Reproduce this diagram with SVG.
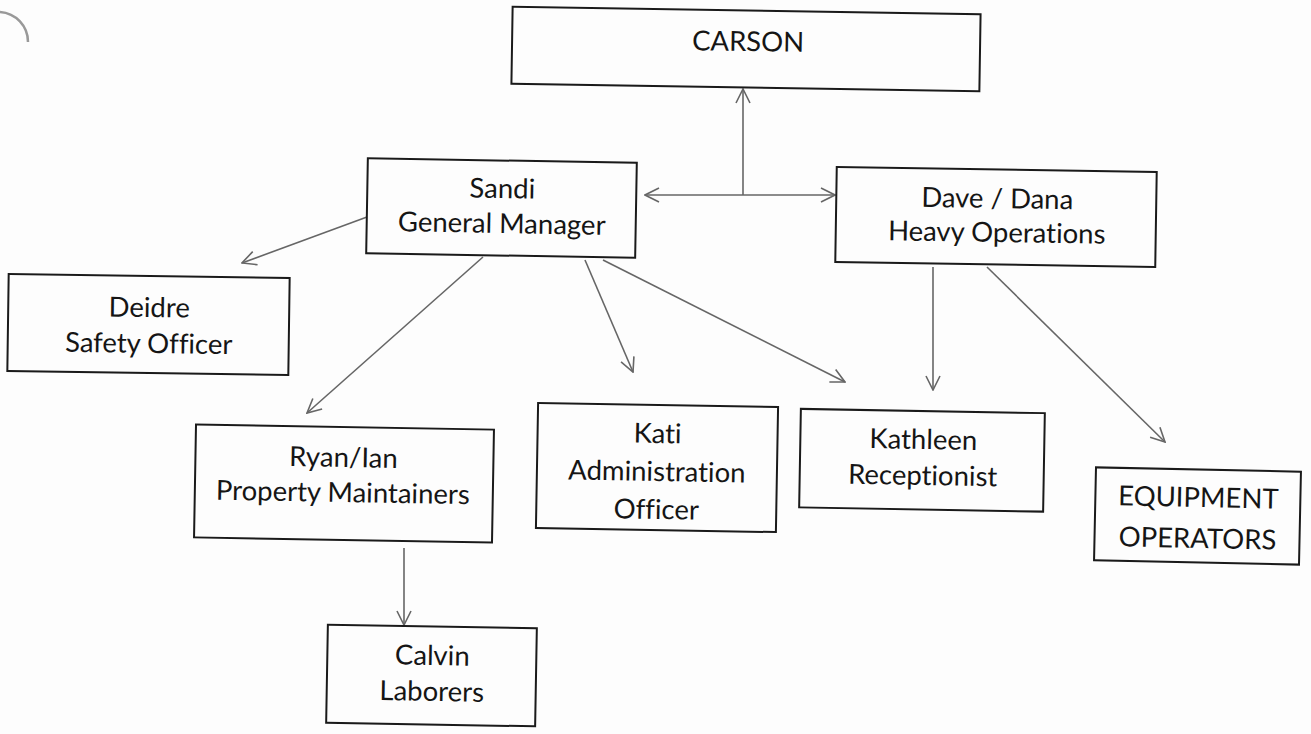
<svg xmlns="http://www.w3.org/2000/svg" width="1311" height="734" viewBox="0 0 1311 734">
  <style>
    .box { fill: none; stroke: #1a1a1a; stroke-width: 2; }
    .lbl { font-family: Lato, "Liberation Sans", sans-serif; font-size: 27.5px; fill: #151515; text-anchor: middle; font-variant-ligatures: none; }
    .con { fill: none; stroke: #666; stroke-width: 1.6; }
  </style>
  <defs>
    <marker id="arr" viewBox="0 0 16 16" refX="15" refY="8" markerWidth="16" markerHeight="16" markerUnits="userSpaceOnUse" orient="auto-start-reverse">
      <path d="M1,1 L15,8 L1,15" fill="none" stroke="#666" stroke-width="1.6"/>
    </marker>
  </defs>
  <rect x="0" y="0" width="1311" height="734" fill="#fdfdfd"/>
  <path d="M0,12 A30,30 0 0 1 28,42" fill="none" stroke="#999" stroke-width="2.5"/>

  <g id="connectors">
    <line class="con" x1="743" y1="195" x2="743" y2="89" marker-end="url(#arr)"/>
    <line class="con" x1="645" y1="195" x2="835" y2="195" marker-start="url(#arr)" marker-end="url(#arr)"/>
    <line class="con" x1="367" y1="217" x2="242" y2="263" marker-end="url(#arr)"/>
    <line class="con" x1="483" y1="257" x2="307" y2="413" marker-end="url(#arr)"/>
    <line class="con" x1="585" y1="260" x2="633" y2="372" marker-end="url(#arr)"/>
    <line class="con" x1="603" y1="260" x2="845" y2="382" marker-end="url(#arr)"/>
    <line class="con" x1="933" y1="267" x2="933" y2="390" marker-end="url(#arr)"/>
    <line class="con" x1="987" y1="267" x2="1165" y2="442" marker-end="url(#arr)"/>
    <line class="con" x1="404" y1="548" x2="404" y2="625" marker-end="url(#arr)"/>
  </g>

  <g id="carson" transform="rotate(0.9 746 49)">
    <rect class="box" x="512" y="10.5" width="468" height="77"/>
    <text class="lbl" x="748" y="51">CARSON</text>
  </g>
  <g id="sandi" transform="rotate(1 501.5 208)">
    <rect class="box" x="367" y="160.5" width="269" height="95"/>
    <text class="lbl" x="502" y="198">Sandi</text>
    <text class="lbl" x="502" y="233">General Manager</text>
  </g>
  <g id="dave" transform="rotate(0.9 996 217)">
    <rect class="box" x="836" y="169.5" width="320" height="95"/>
    <text class="lbl" x="997" y="208">Dave / Dana</text>
    <text class="lbl" x="997" y="242">Heavy Operations</text>
  </g>
  <g id="deidre" transform="rotate(0.8 148.5 324.5)">
    <rect class="box" x="8" y="276" width="281" height="97"/>
    <text class="lbl" x="149" y="317">Deidre</text>
    <text class="lbl" x="149" y="353">Safety Officer</text>
  </g>
  <g id="ryan" transform="rotate(1 344 483.5)">
    <rect class="box" x="195" y="427" width="298" height="113"/>
    <text class="lbl" x="343" y="467">Ryan/Ian</text>
    <text class="lbl" x="343" y="502">Property Maintainers</text>
  </g>
  <g id="kati" transform="rotate(1 657 467.5)">
    <rect class="box" x="537" y="405" width="240" height="125"/>
    <text class="lbl" x="657" y="443">Kati</text>
    <text class="lbl" x="657" y="481">Administration</text>
    <text class="lbl" x="657" y="519">Officer</text>
  </g>
  <g id="kathleen" transform="rotate(1 922 460)">
    <rect class="box" x="800" y="411" width="244" height="98.5"/>
    <text class="lbl" x="923" y="449">Kathleen</text>
    <text class="lbl" x="923" y="485">Receptionist</text>
  </g>
  <g id="equipment" transform="rotate(1.2 1197.5 516)">
    <rect class="box" x="1095" y="469.5" width="205" height="93"/>
    <text class="lbl" x="1198" y="507">EQUIPMENT</text>
    <text class="lbl" x="1198" y="548">OPERATORS</text>
  </g>
  <g id="calvin" transform="rotate(1 431.5 675.5)">
    <rect class="box" x="327" y="626.5" width="209" height="98"/>
    <text class="lbl" x="432" y="665">Calvin</text>
    <text class="lbl" x="432" y="701">Laborers</text>
  </g>
</svg>
